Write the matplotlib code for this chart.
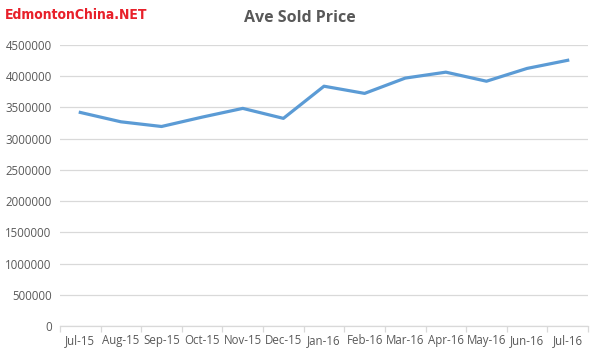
import numpy as np
import matplotlib.pyplot as plt

# Data
months = ['Jul-15', 'Aug-15', 'Sep-15', 'Oct-15', 'Nov-15', 'Dec-15', 'Jan-16',
          'Feb-16', 'Mar-16', 'Apr-16', 'May-16', 'Jun-16', 'Jul-16']
ave_price = [3420000, 3270000, 3195000, 3345000, 3485000, 3325000, 3840000,
             3725000, 3970000, 4065000, 3920000, 4125000, 4255000]
y_ticks = list(range(0, 4500001, 500000))

text_grey = '#595959'
grid_grey = '#D9D9D9'
line_blue = '#5B9BD5'

fig = plt.figure(figsize=(5.99, 3.57), dpi=100)
ax = fig.add_axes([60 / 599, 31 / 357, 528 / 599, 281 / 357])

x = np.arange(len(months))
ax.plot(x, ave_price, color=line_blue, linewidth=2.3, solid_joinstyle='round', zorder=3)

ax.set_ylim(0, 4500000)
ax.set_xlim(-0.5, len(months) - 0.5)
ax.set_yticks(y_ticks)
ax.set_yticklabels([str(v) for v in y_ticks])
ax.yaxis.grid(True, color=grid_grey, linewidth=0.9)
ax.set_axisbelow(True)

# category labels centred, small tick marks between categories
ax.set_xticks(x)
ax.set_xticklabels(months)
ax.set_xticks(np.arange(-0.5, len(months)), minor=True)
ax.tick_params(axis='x', which='major', length=0, pad=13.2)
ax.tick_params(axis='x', which='minor', length=4, color=grid_grey, width=0.9)
ax.tick_params(axis='y', length=0, pad=6)
for lab in ax.get_xticklabels() + ax.get_yticklabels():
    lab.set_fontfamily(['Open Sans', 'DejaVu Sans'])
    lab.set_fontsize(8.3)
    lab.set_color(text_grey)
for lab in ax.get_xticklabels():
    lab.set_verticalalignment('baseline')

for side in ['top', 'right', 'left']:
    ax.spines[side].set_visible(False)
ax.spines['bottom'].set_color(grid_grey)
ax.spines['bottom'].set_linewidth(0.9)

fig.text(300 / 599, 1 - 18 / 357, 'Ave Sold Price', ha='center', va='center',
         fontsize=11.5, fontweight='bold', color=text_grey,
         family=['Open Sans', 'DejaVu Sans'])
fig.text(5 / 599, 1 - 15 / 357, 'EdmontonChina.NET', ha='left', va='center',
         fontsize=10, fontweight='bold', fontstretch='condensed', color='#E8202A',
         family=['DejaVu Sans'])

fig.savefig('out.png', dpi=100)
